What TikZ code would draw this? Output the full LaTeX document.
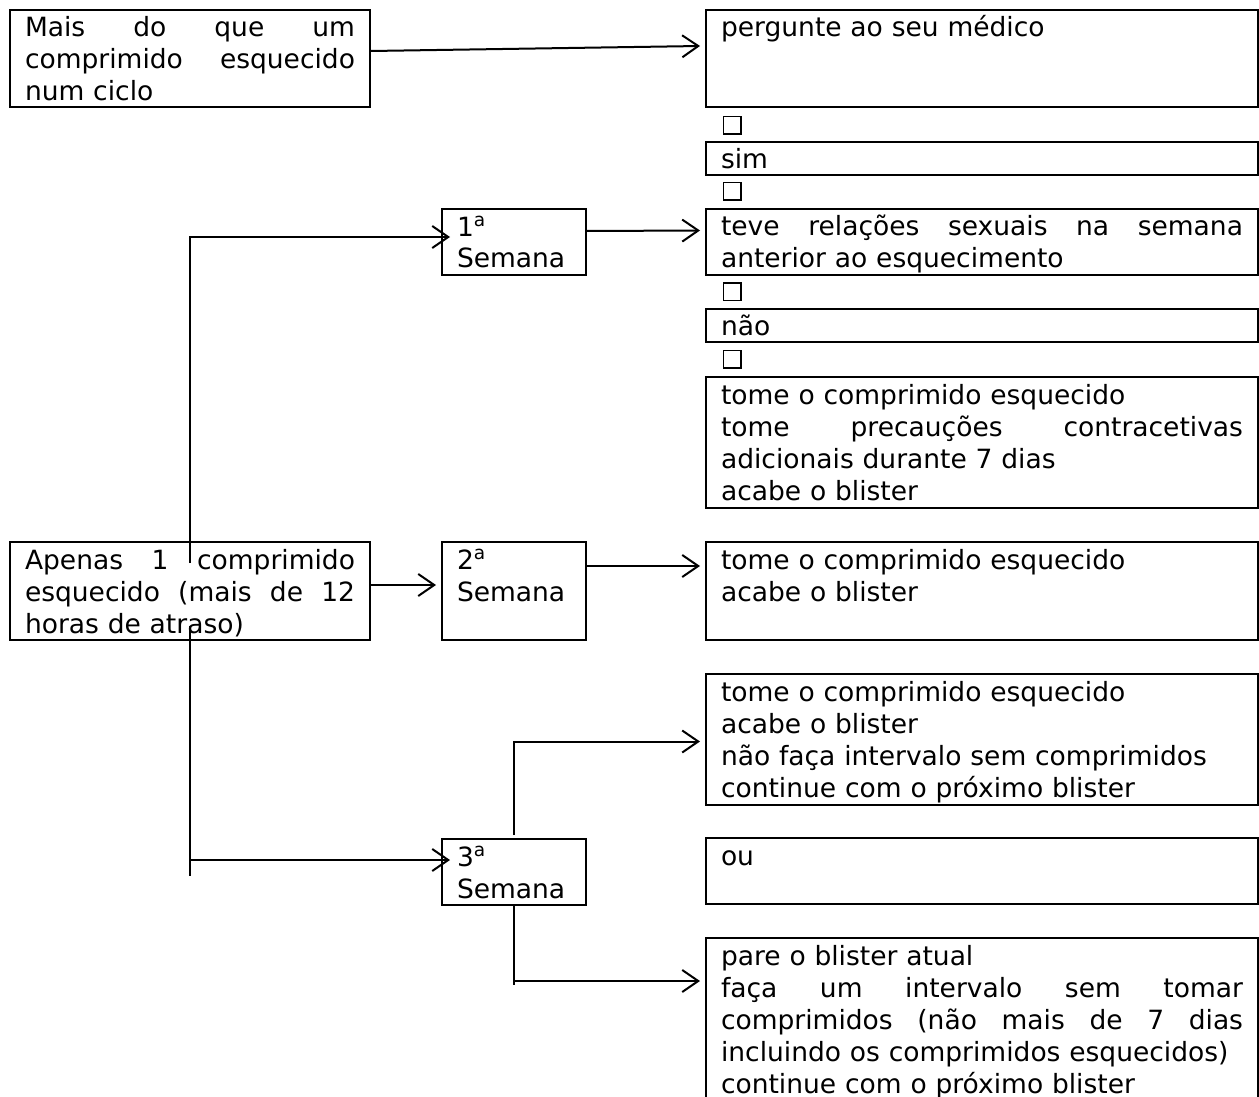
\documentclass[tikz,border=0pt]{standalone}
\usepackage{fontspec}
\setmainfont{DejaVu Sans}
\usetikzlibrary{arrows.meta}

\begin{document}
\begin{tikzpicture}[x=1pt, y=-1pt, line width=2pt]
        \tikzstyle{every node}=[font=\fontsize{26.5}{32}\selectfont]
        \tikzstyle{caixa}=[draw, anchor=north west, align=left, inner xsep=15pt, inner ysep=0pt, text height=27pt]
        \tikzstyle{larga}=[caixa, text width=522pt]
        \tikzstyle{media}=[caixa, text width=330pt]
        \tikzstyle{semana}=[caixa, text width=114pt]
        \tikzstyle{quadrado}=[draw, line width=1.5pt, minimum size=17.5pt, inner sep=0pt]
        \tikzstyle{seta}=[-{Straight Barb[length=16pt,width=22pt]}]
        \useasboundingbox (0,0) rectangle (1259,1097);
        \clip (0,0) rectangle (1259,1097);

        \node [media, text depth=70pt] (mais) at (9,9) {Mais\hfill do\hfill que\hfill um\\ comprimido\hfill esquecido\\ num ciclo};
        \node [media, text depth=71pt] (apenas) at (9,541) {Apenas\hfill 1\hfill comprimido\\ esquecido\hfill (mais\hfill de\hfill 12\\ horas de atraso)};

        \node [semana, text depth=39pt] (s1) at (441,208) {1\textsuperscript{a}\\ Semana};
        \node [semana, text depth=71pt] (s2) at (441,541) {2\textsuperscript{a}\\ Semana};
        \node [semana, text depth=39pt] (s3) at (441,838) {3\textsuperscript{a}\\ Semana};

        \node [larga, text depth=70pt] (pergunte) at (705,9) {pergunte ao seu médico};
        \node [quadrado] (q1) at (732,125.5) {};
        \node [larga, text depth=6pt] (sim) at (705,141) {sim};
        \node [quadrado] (q2) at (732,191.5) {};
        \node [larga, text depth=39pt] (teve) at (705,207.5) {teve\hfill relações\hfill sexuais\hfill na\hfill semana\\ anterior ao esquecimento};
        \node [quadrado] (q3) at (732,291.5) {};
        \node [larga, text depth=6pt] (nao) at (705,307.5) {não};
        \node [quadrado] (q4) at (732,359) {};
        \node [larga, text depth=104pt] (tome) at (705,376) {tome o comprimido esquecido\\ tome\hfill precauções\hfill contracetivas\\ adicionais durante 7 dias\\ acabe o blister};
        \node [larga, text depth=71pt] (r2) at (705,541) {tome o comprimido esquecido\\ acabe o blister};
        \node [larga, text depth=104pt] (r3) at (705,673) {tome o comprimido esquecido\\ acabe o blister\\ não faça intervalo sem comprimidos\\ continue com o próximo blister};
        \node [larga, text depth=39pt] (ou) at (705,837) {ou};
        \node [larga, text depth=173pt] (ult) at (705,937) {pare o blister atual\\ faça\hfill um\hfill intervalo\hfill sem\hfill tomar\\ comprimidos\hfill (não\hfill mais\hfill de\hfill 7\hfill dias\\ incluindo os comprimidos esquecidos)\\ continue com o próximo blister};

        \draw [seta] ([yshift=7.5pt]mais.east) -- ([xshift=-5pt,yshift=12.5pt]pergunte.west);
        \draw [seta] ([yshift=-22pt]apenas.north) |- ([xshift=9pt,yshift=5pt]s1.west);
        \draw [seta] ([yshift=6pt]apenas.east) -- ([xshift=-5pt,yshift=6pt]s2.west);
        \draw ([yshift=15pt]apenas.south) -- ([yshift=-235pt]apenas.south);
        \coordinate (c3) at ([xshift=9pt,yshift=12pt]s3.west);
        \draw [seta] (apenas.south |- c3) -- (c3);

        \draw [seta] ([yshift=11pt]s1.east) -- ([xshift=-5pt,yshift=11pt]teve.west);
        \draw [seta] ([yshift=25pt]s2.east) -- ([xshift=-5pt,yshift=25pt]r2.west);
        \draw [seta] ([yshift=3pt]s3.north) |- ([xshift=-5pt,yshift=-2pt]r3.west);
        \coordinate (c4) at ([xshift=-5pt,yshift=-44pt]ult.north west);
        \draw (s3.south) -- ([yshift=-4pt]s3.south |- c4);
        \draw [seta] (s3.south |- c4) -- (c4);
    \end{tikzpicture}
\end{document}
